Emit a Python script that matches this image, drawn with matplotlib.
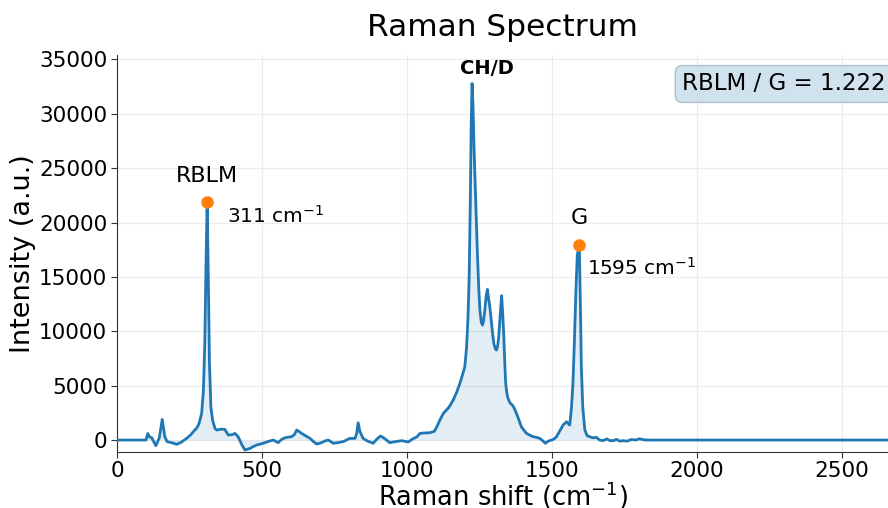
import matplotlib
matplotlib.use("Agg")
import matplotlib.pyplot as plt

# Raman shift (cm^-1) and intensity (a.u.)
shift = [0, 100, 106, 112, 120, 134, 146, 156, 165, 173, 190, 206, 222, 240, 255, 263, 275, 283,
         292, 298, 303, 307, 311, 315, 319, 324, 330, 338, 344, 358, 372, 384, 398, 407, 418, 430,
         441, 450, 459, 470, 482, 504, 520, 539, 556, 570, 585, 602, 612, 620, 630, 637, 650, 666,
         678, 689, 705, 718, 729, 746, 760, 780, 803, 821, 827, 832, 838, 849, 865, 884, 897, 909,
         920, 941, 960, 982, 1005, 1020, 1035, 1045, 1060, 1079, 1095, 1105, 1114, 1126, 1131, 1145,
         1160, 1172, 1183, 1192, 1200, 1206, 1211, 1215, 1219, 1222, 1225, 1228, 1232, 1238, 1243,
         1248, 1252, 1257, 1261, 1265, 1269, 1274, 1278, 1282, 1286, 1290, 1295, 1300, 1305, 1309,
         1313, 1317, 1322, 1327, 1331, 1334, 1338, 1341, 1345, 1349, 1356, 1364, 1371, 1378, 1386,
         1395, 1404, 1413, 1424, 1436, 1447, 1459, 1468, 1478, 1488, 1499, 1508, 1516, 1527, 1539,
         1551, 1557, 1562, 1568, 1573, 1578, 1583, 1588, 1595, 1599, 1602, 1607, 1614, 1622, 1631,
         1643, 1654, 1665, 1677, 1690, 1700, 1712, 1723, 1735, 1746, 1760, 1775, 1790, 1803, 1815,
         1826, 2660]
intensity = [0, 0, 600, 300, 200, -520, 200, 1900, 300, -150, -250, -400, -200, 150, 500, 760, 1100, 1500,
             2450, 4500, 9000, 16000, 21880, 15000, 7000, 3000, 1800, 1070, 920, 1000, 980, 460, 500, 610, 300, -400,
             -920, -850, -770, -600, -460, -300, -150, 0, -240, 100, 250, 300, 500, 920, 750, 610, 400, 150,
             -150, -370, -250, -80, 0, -300, -250, -150, 150, 150, 600, 1590, 800, 150, -100, -300, 100, 370,
             200, -240, -150, -60, -180, 100, 300, 610, 650, 670, 800, 1300, 1840, 2450, 2600, 3000,
             3680, 4400, 5210, 6000, 6740, 8500, 11330, 15000, 22000, 29000, 32780, 31000, 26650, 21500, 17460,
             14000, 11950, 10800, 10570, 11000, 11950, 13300, 13850, 13000, 12300, 11330, 10000, 8890, 8400, 8270,
             8600, 9490, 11500, 13270, 11500, 9800, 7000, 5210, 4300, 3830, 3400, 3220, 2900, 2450, 1900,
             1220, 900, 610, 450, 300, 250, 150, -50, -300, -100, 0, 100, 300, 800, 1380,
             1680, 1500, 1380, 3000, 5210, 9000, 13500, 17000, 17905, 12000, 6740, 3000, 920, 400, 300,
             200, 250, 0, -60, 100, -50, -60, 60, -100, -60, -100, 50, 0, 120, 30,
             0, 0]

peak_names = ["RBLM", "G"]
peak_shift = [311, 1595]
peak_int = [21880, 17905]
peak_labels = ["311 cm$^{-1}$", "1595 cm$^{-1}$"]
ratio_text = "RBLM / G = 1.222"
band_label = "CH/D"

fig = plt.figure(figsize=(8.88, 5.08), dpi=100)
ax = fig.add_axes([117 / 888, 56 / 508, 1 - 117 / 888, (452 - 55) / 508])

ax.plot(shift, intensity, color="#1f77b4", lw=2, zorder=3)
ax.fill_between(shift, intensity, 0, color="#1f77b4", alpha=0.13, lw=0, zorder=2)
ax.plot(peak_shift, peak_int, "o", color="#ff7f0e", ms=8, zorder=4)

ax.text(peak_shift[0], 24300, peak_names[0], ha="center", va="center", fontsize=16)
ax.text(380, 20600, peak_labels[0], ha="left", va="center", fontsize=14.5)
ax.text(peak_shift[1], 20400, peak_names[1], ha="center", va="center", fontsize=16)
ax.text(1621, 15800, peak_labels[1], ha="left", va="center", fontsize=14.5)
ax.text(1275, 34200, band_label, ha="center", va="center", fontsize=14, fontweight="bold")

ax.text(0.997, 0.927, ratio_text, transform=ax.transAxes, ha="right", va="center", fontsize=16.6,
        bbox=dict(boxstyle="round,pad=0.3", facecolor="#c6dbec", edgecolor="#9fb4c4", alpha=0.8))

ax.set_xlim(0, 2660)
ax.set_ylim(-1100, 35400)
ax.set_xticks([0, 500, 1000, 1500, 2000, 2500])
ax.set_yticks(range(0, 35001, 5000))
ax.tick_params(labelsize=15.5, length=4, pad=3, color="#333333")
ax.tick_params(axis="x", pad=2.5)
ax.grid(True, color="#ececec", lw=0.8, zorder=0)
ax.set_axisbelow(True)
for s in ["top", "right"]:
    ax.spines[s].set_visible(False)
for s in ["left", "bottom"]:
    ax.spines[s].set_color("#333333")

ax.set_xlabel("Raman shift (cm$^{-1}$)", fontsize=18.5, labelpad=-1)
ax.set_ylabel("Intensity (a.u.)", fontsize=19.5, labelpad=2)
ax.set_title("Raman Spectrum", fontsize=22.5, pad=14)

fig.savefig("out.png", dpi=100)
